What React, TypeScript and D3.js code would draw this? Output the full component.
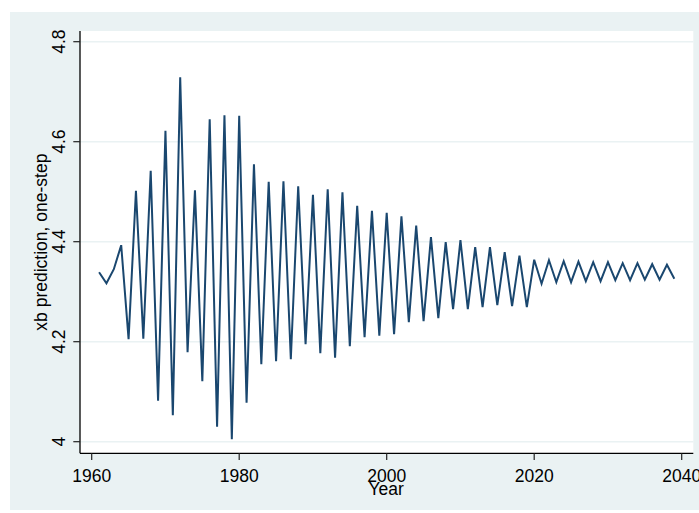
import React from "react";
import * as d3 from "d3";

const years: number[] = d3.range(1961, 2040);
const values: number[] = [
  4.339, 4.317, 4.345, 4.393, 4.205, 4.502, 4.206, 4.542, 4.082, 4.622,
  4.053, 4.729, 4.179, 4.503, 4.121, 4.645, 4.03, 4.653, 4.005, 4.652,
  4.078, 4.555, 4.155, 4.52, 4.161, 4.521, 4.165, 4.511, 4.195, 4.494,
  4.177, 4.505, 4.168, 4.499, 4.191, 4.472, 4.209, 4.462, 4.212, 4.458,
  4.215, 4.451, 4.239, 4.432, 4.241, 4.409, 4.247, 4.399, 4.265, 4.403,
  4.265, 4.389, 4.269, 4.389, 4.273, 4.379, 4.271, 4.372, 4.269, 4.364,
  4.316, 4.363, 4.319, 4.361, 4.319, 4.36, 4.321, 4.359, 4.321, 4.359,
  4.323, 4.357, 4.323, 4.357, 4.324, 4.355, 4.324, 4.354, 4.326,
];
const xTicks: number[] = [1960, 1980, 2000, 2020, 2040];
const yTicks: number[] = [4, 4.2, 4.4, 4.6, 4.8];
const xTitle = "Year";
const yTitle = "xb prediction, one-step";

export default function App() {
  const W = 699, H = 513;
  const left = 80, right = 693.3, top = 31, bottom = 453.3;
  const x = d3.scaleLinear().domain([1960, 2040]).range([91.7, 681.7]);
  const y = d3.scaleLinear().domain([4, 4.8]).range([441.7, 41.7]);
  const line = d3
    .line<number>()
    .x((_, i) => x(years[i]))
    .y((d) => y(d));
  const font = "'Liberation Sans', Arial, sans-serif";
  const fs = 17.5;
  const bg = "#eaf2f3";
  return (
    <svg
      width={W}
      height={H}
      style={{ position: "absolute", left: 0, top: 0, background: "#fff" }}
    >
      <rect x={10} y={12} width={W - 10} height={498} fill={bg} />
      <rect x={left} y={top} width={right - left} height={bottom - top} fill="#fff" />
      {yTicks.map((t) => (
        <line key={"g" + t} x1={left} x2={right} y1={y(t)} y2={y(t)} stroke={bg} strokeWidth={1.6} />
      ))}
      <path d={line(values) || ""} fill="none" stroke="#1a476f" strokeWidth={2} strokeLinejoin="miter" />
      <line x1={left} x2={left} y1={top} y2={bottom} stroke="#000" strokeWidth={1.3} />
      <line x1={left} x2={right} y1={bottom} y2={bottom} stroke="#000" strokeWidth={1.3} />
      {yTicks.map((t) => (
        <g key={"y" + t}>
          <line x1={left - 6.7} x2={left} y1={y(t)} y2={y(t)} stroke="#222" strokeWidth={1.2} />
          <text
            transform={`translate(${65},${y(t)}) rotate(-90)`}
            textAnchor="middle"
            fontFamily={font}
            fontSize={fs}
            fill="#000"
          >
            {d3.format("")(t)}
          </text>
        </g>
      ))}
      {xTicks.map((t) => (
        <g key={"x" + t}>
          <line x1={x(t)} x2={x(t)} y1={bottom} y2={bottom + 6.7} stroke="#222" strokeWidth={1.2} />
          <text x={x(t)} y={481.7} textAnchor="middle" fontFamily={font} fontSize={fs} fill="#000">
            {t}
          </text>
        </g>
      ))}
      <text x={(left + right) / 2 - 0.5} y={494.5} textAnchor="middle" fontFamily={font} fontSize={fs} fill="#000">
        {xTitle}
      </text>
      <text
        transform={`translate(${46.5},${(top + bottom) / 2}) rotate(-90)`}
        textAnchor="middle"
        fontFamily={font}
        fontSize={fs}
        fill="#000"
      >
        {yTitle}
      </text>
    </svg>
  );
}
